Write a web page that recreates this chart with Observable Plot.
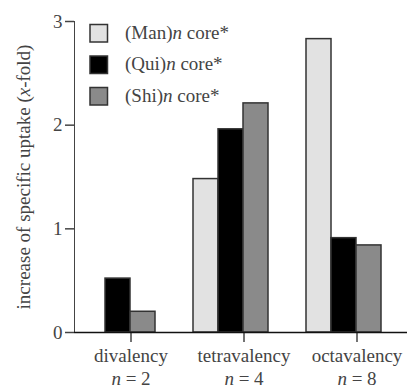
<!DOCTYPE html>
<html>
<head>
<meta charset="utf-8">
<script src="https://cdn.jsdelivr.net/npm/d3@7"></script>
<script src="https://cdn.jsdelivr.net/npm/@observablehq/plot@0.6"></script>
<style>
  html, body { margin: 0; padding: 0; background: #fff; }
  #chart { width: 407px; height: 388px; }
</style>
</head>
<body>
<div id="chart"></div>
<script>
// Valency groups and their n
const groups = ["divalency", "tetravalency", "octavalency"];
const valency = [2, 4, 8];

// Core series
const series = ["Man", "Qui", "Shi"];
const seriesColors = ["#e2e2e2", "#000000", "#8a8a8a"];

// Increase of specific uptake (x-fold) per group
const manValues = [0, 1.48, 2.83];
const quiValues = [0.52, 1.96, 0.91];
const shiValues = [0.20, 2.21, 0.84];

const yTicks = [0, 1, 2, 3];

const valuesBySeries = {Man: manValues, Qui: quiValues, Shi: shiValues};
const data = groups.flatMap((g, i) =>
  series.map(s => ({group: g, series: s, value: valuesBySeries[s][i]}))
);

const textColor = "#444";
const font = "'Liberation Serif', 'Times New Roman', serif";
const fontSize = 19;

const plot = Plot.plot({
  width: 407,
  height: 388,
  marginTop: 21,
  marginBottom: 56,
  marginLeft: 74,
  marginRight: 0,
  style: {fontFamily: font, fontSize: fontSize + "px", color: textColor, background: "#fff"},
  fx: {
    domain: groups,
    range: [74, 413],
    padding: 0,
    label: null,
    axis: "bottom",
    tickSize: 10,
    tickPadding: 6
  },
  x: {
    domain: series,
    paddingInner: 0,
    paddingOuter: 0.724,
    align: 0.155,
    axis: null
  },
  y: {
    domain: [0, 3],
    ticks: yTicks,
    tickFormat: d => String(d),
    tickSize: 9,
    tickPadding: 3,
    line: true,
    label: "increase of specific uptake (x-fold)",
    labelAnchor: "center",
    labelOffset: 58
  },
  color: {domain: series, range: seriesColors},
  marks: [
    Plot.barY(data, {
      fx: "group",
      x: "series",
      y: "value",
      fill: "series",
      stroke: "#333",
      strokeWidth: 1.5
    }),
    Plot.ruleY([0], {stroke: "#111", strokeWidth: 1.5})
  ]
});

document.getElementById("chart").appendChild(plot);

const svg = d3.select(plot);

// Serif text throughout
svg.selectAll("text")
  .attr("font-family", font)
  .attr("font-size", fontSize);

// Axis strokes a bit darker than the text
svg.selectAll("g[aria-label='y-axis tick'], g[aria-label='fx-axis tick'], g[aria-label='y-axis line']")
  .attr("stroke", "#222").attr("stroke-width", 1.5);

// Y label with an italic x
svg.selectAll("g[aria-label='y-axis label'] text").each(function() {
  const t = d3.select(this);
  t.text(null);
  t.append("tspan").text("increase of specific uptake (");
  t.append("tspan").attr("font-style", "italic").text("x");
  t.append("tspan").text("-fold)");
});

// Two-line group labels: name, then n = value
svg.selectAll("g[aria-label='fx-axis tick label'] text").each(function() {
  const t = d3.select(this);
  const name = t.text();
  const i = groups.indexOf(name);
  if (i < 0) return;
  t.text(null);
  t.append("tspan").attr("x", 0).text(name);
  const line2 = t.append("tspan").attr("x", 0).attr("dy", "1.2em");
  line2.append("tspan").attr("font-style", "italic").text("n");
  line2.append("tspan").text(" = " + valency[i]);
});

// Legend inside the plot area
const color = plot.scale("color");
const legend = svg.append("g")
  .attr("font-family", font)
  .attr("font-size", fontSize)
  .attr("text-anchor", "start")
  .attr("fill", textColor);
series.forEach((s, i) => {
  const y0 = 24.5 + i * 31.5;
  legend.append("rect")
    .attr("x", 90).attr("y", y0)
    .attr("width", 17.5).attr("height", 17.5)
    .attr("fill", color.apply(s))
    .attr("stroke", "#333").attr("stroke-width", 1.5);
  const label = legend.append("text").attr("x", 125).attr("y", y0 + 14);
  label.append("tspan").text("(" + s + ")");
  label.append("tspan").attr("font-style", "italic").text("n");
  label.append("tspan").text(" core*");
});
</script>
</body>
</html>
